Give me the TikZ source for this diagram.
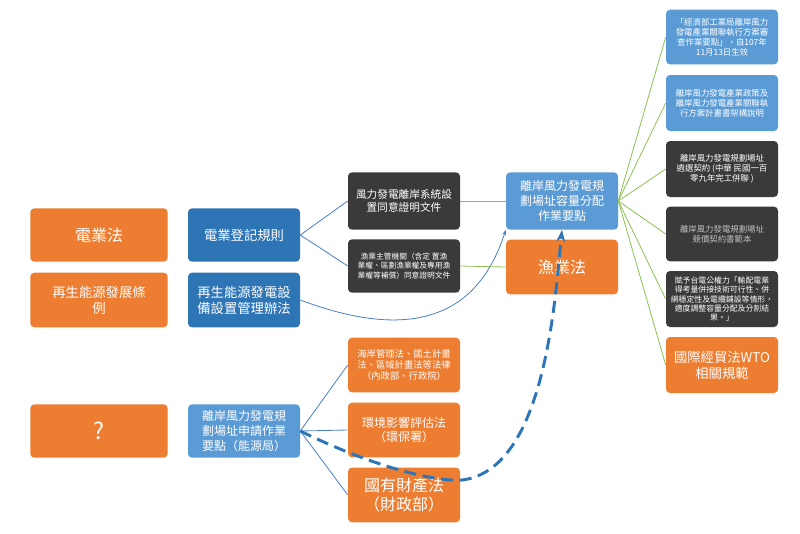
\documentclass[tikz,border=0pt]{standalone}
\usepackage{fontspec}
\setmainfont{Noto Sans CJK TC}
\usetikzlibrary{arrows.meta}
\definecolor{orng}{HTML}{ED7D31}
\definecolor{blu}{HTML}{2E75B6}
\definecolor{lblu}{HTML}{5B9BD5}
\definecolor{drk}{HTML}{3A3A3A}
\definecolor{grn}{HTML}{8CC152}
\definecolor{lnblu}{HTML}{4A7EC7}
\newcommand{\rfont}{\fontsize{6.3}{7.6}\selectfont}
\begin{document}
\begin{tikzpicture}[x=0.75pt,y=-0.75pt,
    box/.style={rounded corners=3pt, text=white, align=center, inner sep=1pt},
    obox/.style={box, fill=orng},
    bbox/.style={box, fill=blu},
    lbox/.style={box, fill=lblu},
    dbox/.style={box, fill=drk},
    bl/.style={draw=lnblu, line width=0.6pt},
    gl/.style={draw=grn, line width=0.6pt},
  ]
  \useasboundingbox (0,0) rectangle (800,533);
  % left column
  \node[obox, minimum width=103pt, minimum height=40pt, font=\large] (elaw) at (99,235) {電業法};
  \node[obox, minimum width=103pt, minimum height=41pt, text width=98pt] (relaw) at (99,300) {再生能源發展條\\例};
  \node[obox, minimum width=103pt, minimum height=40pt, font=\LARGE] (q) at (99,431) {?};
  % second column
  \node[bbox, minimum width=84pt, minimum height=40pt] (reg) at (244,235) {電業登記規則};
  \node[bbox, minimum width=84pt, minimum height=41pt] (remgt) at (244,300) {再生能源發電設\\備設置管理辦法};
  \node[lbox, minimum width=84pt, minimum height=40pt, font=\small] (apply) at (244,431) {離岸風力發電規\\劃場址申請作業\\要點（能源局）};
  % third column
  \node[dbox, minimum width=84pt, minimum height=43pt, font=\footnotesize] (cert) at (404,201) {風力發電離岸系統設\\置同意證明文件};
  \node[dbox, minimum width=84pt, minimum height=40pt, font=\fontsize{5.8}{7.4}\selectfont] (fish) at (404,266) {漁業主管機關（含定 置漁\\業權、區劃漁業權及專用漁\\業權等補償）同意證明文件};
  \node[obox, minimum width=84pt, minimum height=41pt, font=\scriptsize] (coast) at (404,365) {海岸管理法、國土計畫\\法、區域計畫法等法律\\（內政部、行政院）};
  \node[obox, minimum width=84pt, minimum height=41pt, font=\small] (eia) at (404,430) {環境影響評估法\\（環保署）};
  \node[obox, minimum width=84pt, minimum height=41pt, font=\large] (prop) at (404,495) {國有財產法\\（財政部）};
  % fourth column
  \node[lbox, minimum width=84pt, minimum height=43pt, font=\small] (alloc) at (562,201) {離岸風力發電規\\劃場址容量分配\\作業要點};
  \node[obox, minimum width=84pt, minimum height=41pt, font=\large] (fishlaw) at (562,267) {漁業法};
  % right column
  \node[lbox, minimum width=84pt, minimum height=41pt, font=\rfont] (r1) at (722,37) {「經濟部工業局離岸風力\\發電產業關聯執行方案審\\查作業要點」，自107年\\11月13日生效};
  \node[lbox, minimum width=84pt, minimum height=42pt, font=\rfont] (r2) at (722,103) {離岸風力發電產業政策及\\離岸風力發電產業關聯執\\行方案計畫書架構說明};
  \node[dbox, minimum width=84pt, minimum height=42pt, font=\rfont] (r3) at (722,169) {離岸風力發電規劃場址\\遴選契約 (中華 民國一百\\零九年完工併聯 )};
  \node[dbox, minimum width=84pt, minimum height=41pt, font=\rfont, text=white!75!black] (r4) at (722,234) {離岸風力發電規劃場址\\競價契約書範本};
  \node[dbox, minimum width=84pt, minimum height=42pt, font=\fontsize{5.9}{7}\selectfont] (r5) at (722,299) {賦予台電公權力「輸配電業\\得考量併接技術可行性、併\\網穩定性及電纜鋪設等情形，\\適度調整容量分配及分割結\\果。」};
  \node[obox, minimum width=84pt, minimum height=42pt] (r6) at (722,365) {國際經貿法WTO\\相關規範};
  % connectors
  \draw[bl] (reg.east) -- (cert.west);
  \draw[bl] (reg.east) -- (fish.west);
  \draw[bl, -{Stealth[length=4pt]}] (remgt.east) .. controls (420,345) and (480,310) .. (alloc.south west);
  \draw[bl] (apply.east) -- (coast.west);
  \draw[bl] (apply.east) -- (eia.west);
  \draw[bl] (apply.east) -- (prop.west);
  \draw[gl] (cert.east) -- (alloc.west);
  \draw[gl] (fish.east) -- (fishlaw.west);
  \foreach \r in {r1,r2,r3,r4,r5,r6}
    \draw[gl] (alloc.east) -- (\r.west);
  \coordinate (dip) at (462,480);
  \draw[draw=blu, line width=2.2pt, dashed, dash pattern=on 9pt off 5pt, -{Stealth[length=9pt]}]
    (apply.east) .. controls (380,470) and (440,482) .. (dip)
    .. controls (545,470) and (555,300) .. (alloc.south);
\end{tikzpicture}
\end{document}
